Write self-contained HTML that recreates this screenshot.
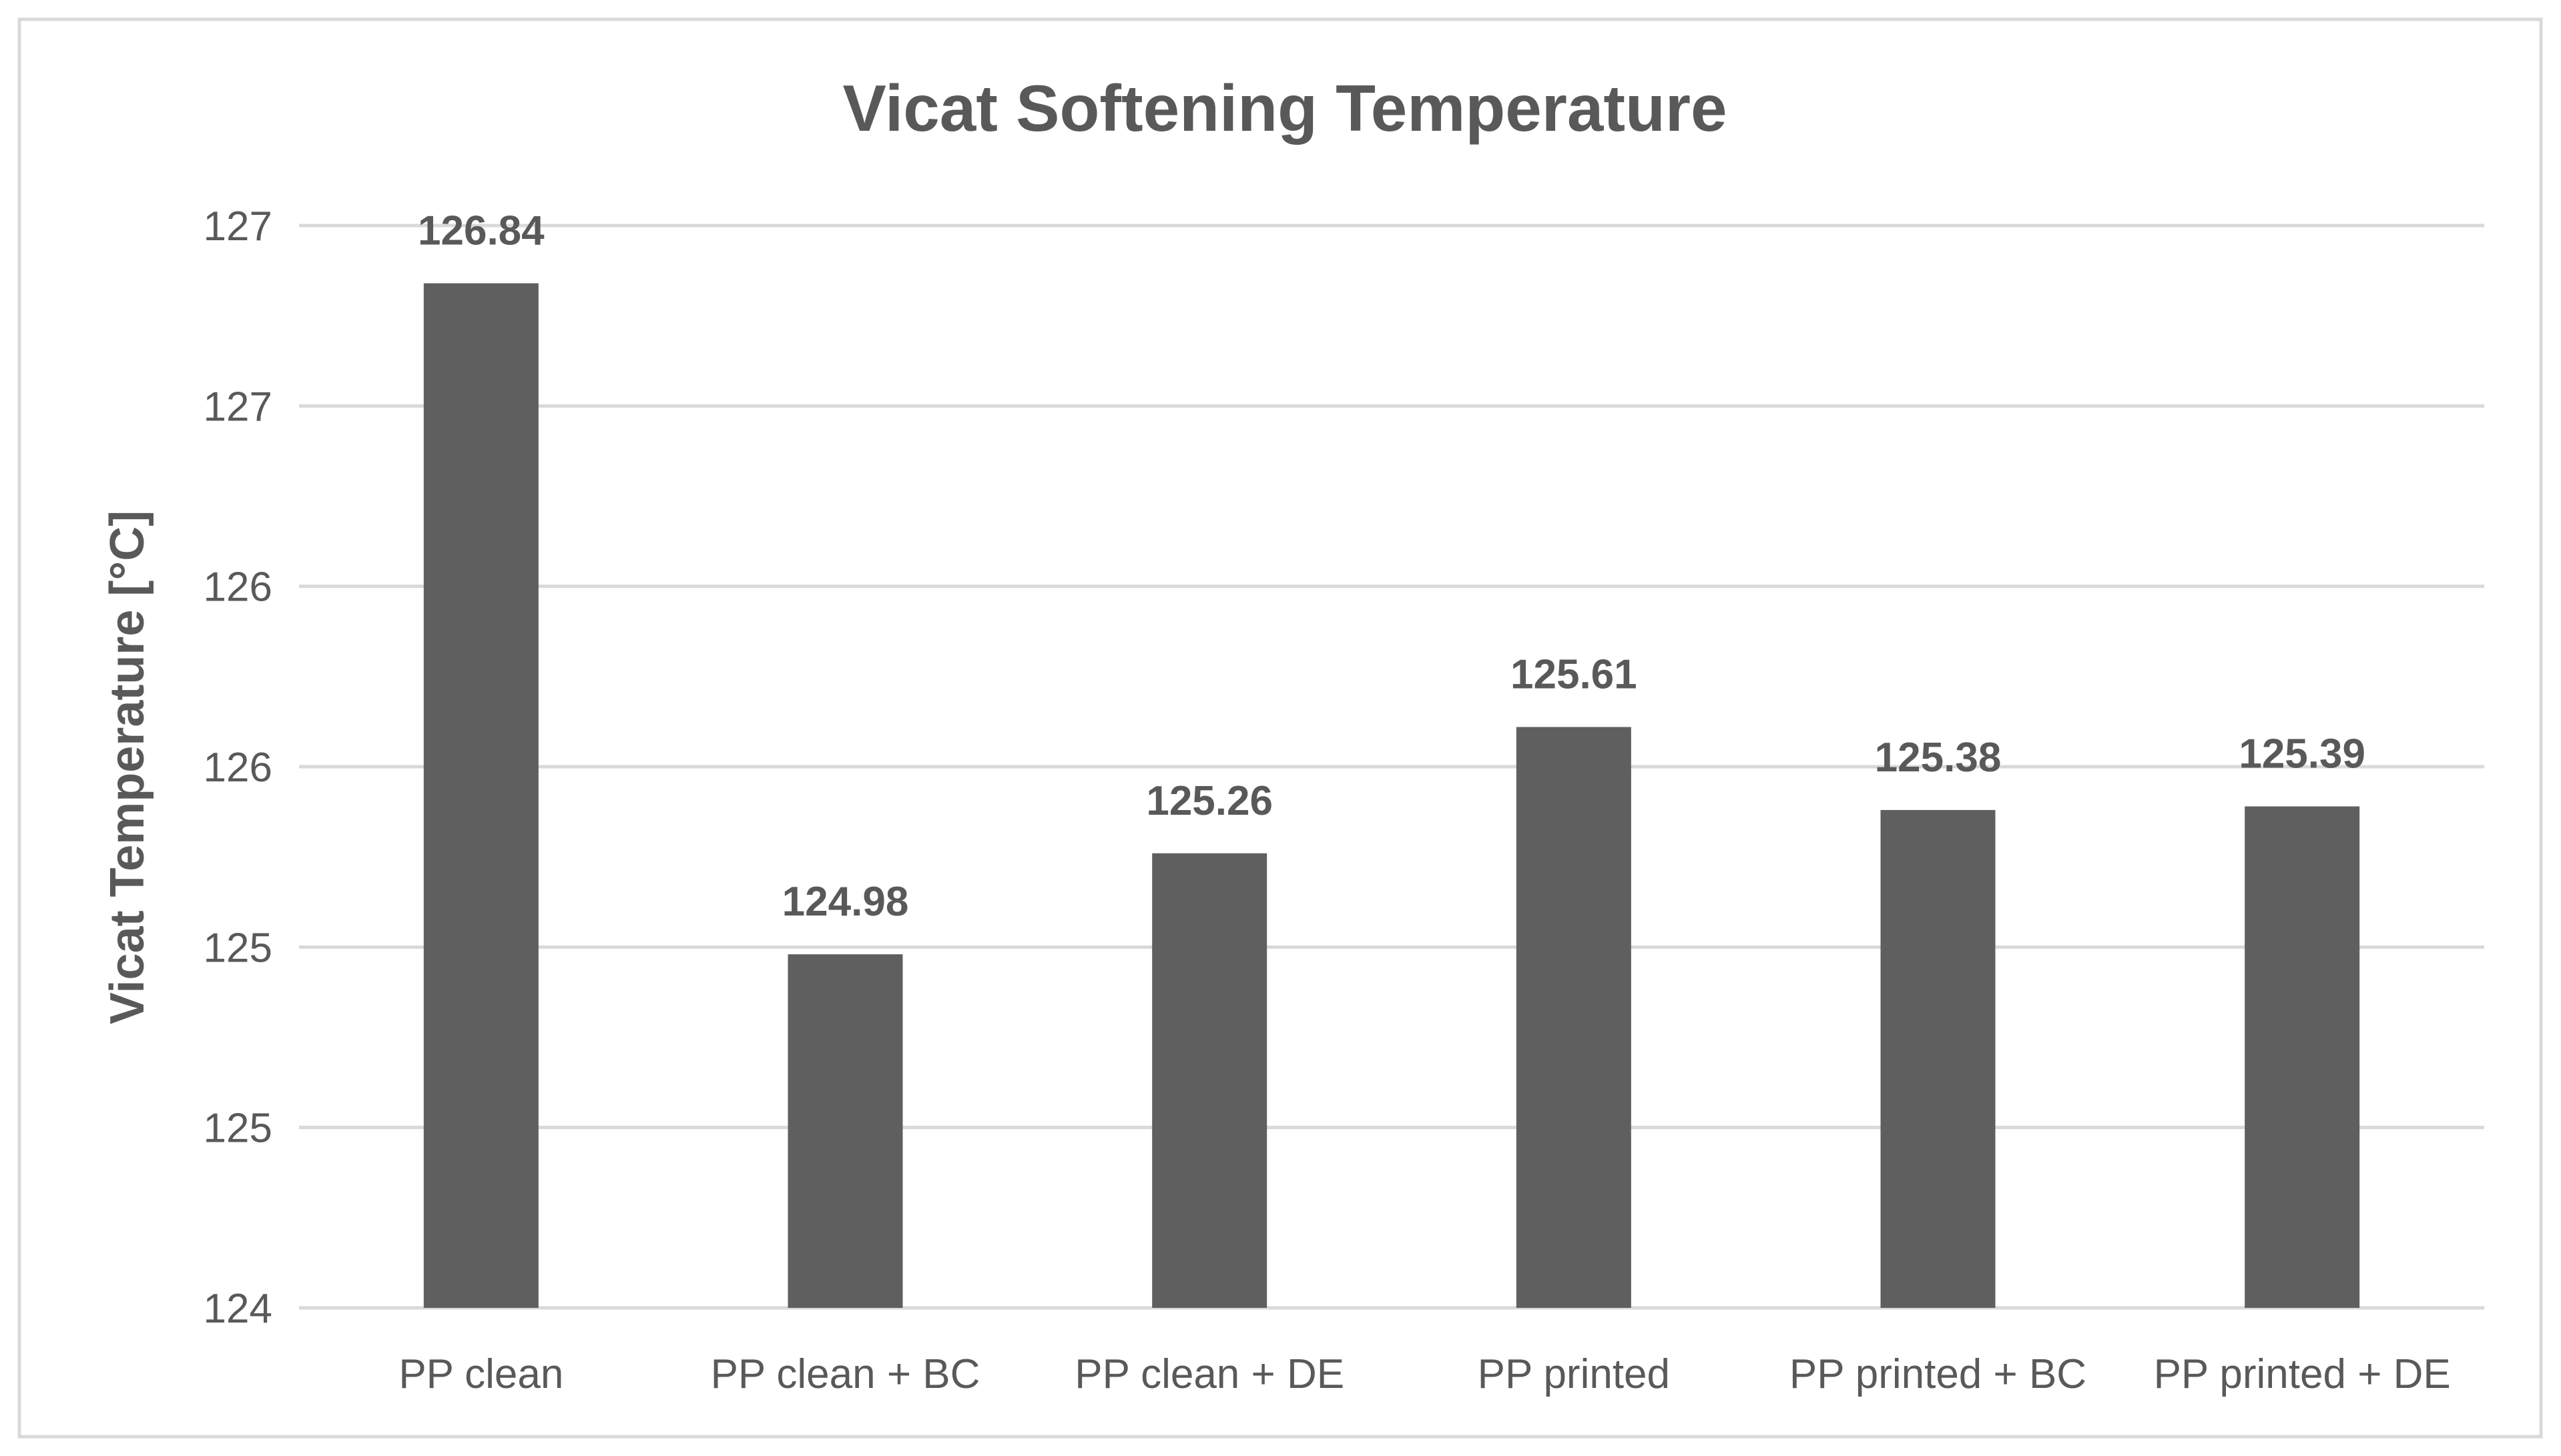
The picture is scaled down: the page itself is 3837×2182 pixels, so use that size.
<!DOCTYPE html>
<html><head><meta charset="utf-8"><style>
html,body{margin:0;padding:0;background:#fff;}
svg{display:block;font-family:"Liberation Sans",Calibri,sans-serif;}
</style></head><body>
<svg id="chart" width="3837" height="2182" viewBox="0 0 3837 2182" xmlns="http://www.w3.org/2000/svg">
<rect x="29" y="29" width="3778" height="2124" fill="#fff" stroke="#d9d9d9" stroke-width="5"/>
<text x="1925" y="196" text-anchor="middle" font-size="98" font-weight="bold" fill="#595959">Vicat Softening Temperature</text>
<text transform="translate(215,1150) rotate(-90)" text-anchor="middle" font-size="72" font-weight="bold" fill="#595959">Vicat Temperature [°C]</text>
<g id="grid"></g><g id="bars"></g><g id="labels"></g>
</svg>
<script>
const categories=["PP clean","PP clean + BC","PP clean + DE","PP printed","PP printed + BC","PP printed + DE"];
const values=[126.84,124.98,125.26,125.61,125.38,125.39];
const valueLabels=["126.84","124.98","125.26","125.61","125.38","125.39"];
const tickValues=[124,124.5,125,125.5,126,126.5,127];
const tickLabels=["124","125","125","126","126","127","127"];
const NS="http://www.w3.org/2000/svg";
const L=448,R=3722,T=338,B=1960,yMin=124,yMax=127;
const y=v=>B-(v-yMin)/(yMax-yMin)*(B-T);
const bw=(R-L)/categories.length;
const x=i=>L+bw*(i+0.5);
function mk(t,a,p){const e=document.createElementNS(NS,t);for(const k in a)e.setAttribute(k,a[k]);p.appendChild(e);return e;}
const g=document.getElementById('grid'),b=document.getElementById('bars'),lb=document.getElementById('labels');
tickValues.forEach((v,i)=>{
 const l=mk('line',{x1:L,x2:R,y1:y(v),y2:y(v),stroke:'#d9d9d9','stroke-width':5},g);
 
 
 const t=mk('text',{x:L-40,y:y(v)+22,'text-anchor':'end','font-size':62,fill:'#595959'},g);
 t.textContent=tickLabels[i];
 
 
});
categories.forEach((c,i)=>{
 const r=mk('rect',{x:x(i)-86,y:y(values[i]),width:172,height:B-y(values[i]),fill:'#5f5f5f'},b);
 
 
 const v=mk('text',{x:x(i),y:y(values[i])-58,'text-anchor':'middle','font-size':62,'font-weight':'bold',fill:'#595959'},lb);
 v.textContent=valueLabels[i];
 
 
 const t=mk('text',{x:x(i),y:2080,'text-anchor':'middle','font-size':62,fill:'#595959'},lb);
 t.textContent=c;
 
 
});
</script>
</body></html>
